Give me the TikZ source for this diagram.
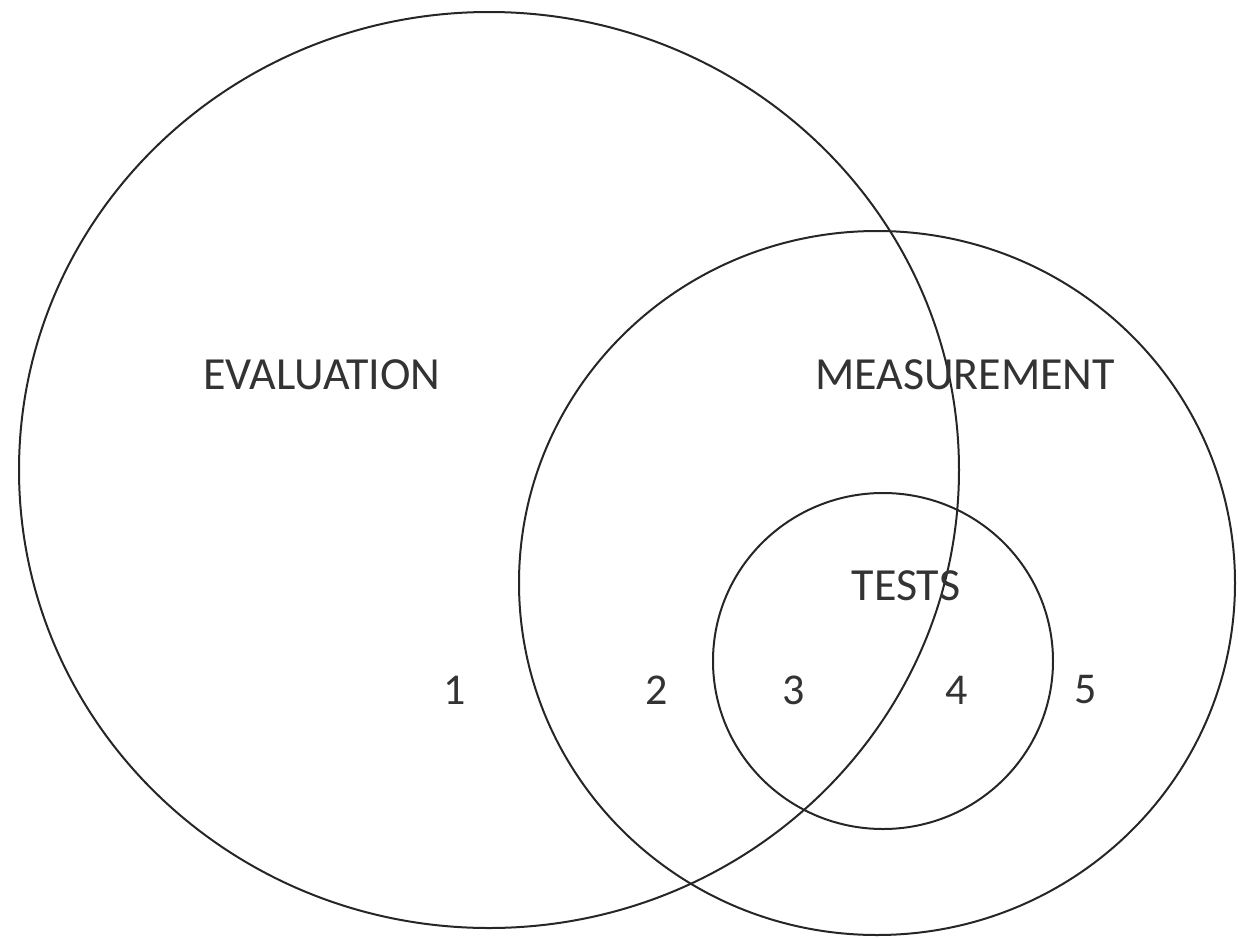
\documentclass[tikz,border=0pt]{standalone}
\usepackage{fontspec}
\setmainfont{Carlito}
\begin{document}
\begin{tikzpicture}[x=0.5pt,y=-0.5pt,
  ring/.style={draw=black!85, line width=1pt},
  lbl/.style={text=black!80, font=\fontsize{23}{27}\selectfont, inner sep=0pt},
  num/.style={text=black!80, font=\fontsize{22}{26}\selectfont, inner sep=0pt}]
\useasboundingbox (0,0) rectangle (1238,938);
\draw[ring] (489,470) ellipse [x radius=470, y radius=458];
\draw[ring] (877,583) ellipse [x radius=358, y radius=352];
\draw[ring] (883,661) ellipse [x radius=170, y radius=168];
\node[lbl] (eval) at (322,375) {EVALUATION};
\node[lbl] (meas) at (965,375) {MEASUREMENT};
\node[lbl] (tests) at (906,586) {TESTS};
\node[num] (n1) at (455,690) {1};
\node[num] (n2) at (657,690) {2};
\node[num] (n3) at (794,690) {3};
\node[num] (n4) at (957,690) {4};
\node[num] (n5) at (1086,690) {5};
\end{tikzpicture}
\end{document}
